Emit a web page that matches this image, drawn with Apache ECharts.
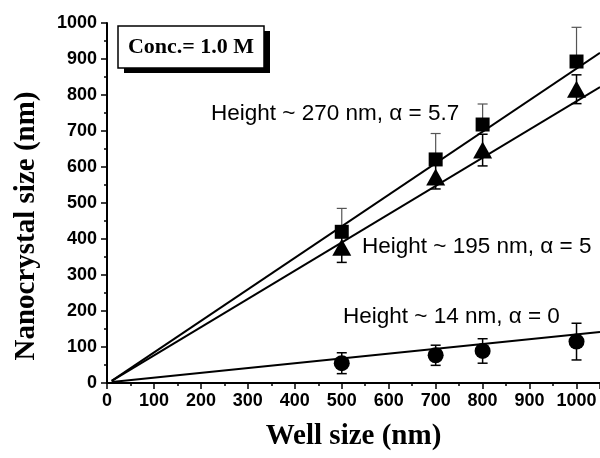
<!DOCTYPE html>
<html>
<head>
<meta charset="utf-8">
<script src="https://cdn.jsdelivr.net/npm/echarts@6/dist/echarts.min.js"></script>
<style>
  html, body { margin: 0; padding: 0; background: #fff; }
  #main { width: 600px; height: 458px; }
</style>
</head>
<body>
<div id="main"></div>
<script>
// well sizes (nm) and measured nanocrystal sizes
const wellSize = [500, 700, 800, 1000];
const size270 = [420, 621, 718, 893];
const err270 = [65, 72, 57, 95];
const size195 = [377, 572, 647, 816];
const err195 = [42, 33, 44, 40];
const size14 = [55, 77, 89, 115];
const err14 = [29, 28, 34, 51];

// fitted lines (end points)
const fit270 = [[10, 6], [1050, 917]];
const fit195 = [[10, 6], [1050, 822]];
const fit14 = [[10, 3], [1050, 142]];

const labels = {
  h270: 'Height ~ 270 nm, \u03b1 = 5.7',
  h195: 'Height ~ 195 nm, \u03b1 = 5',
  h14: 'Height ~ 14 nm, \u03b1 = 0',
  conc: 'Conc.= 1.0 M',
  xTitle: 'Well size (nm)',
  yTitle: 'Nanocrystal size (nm)'
};

const pts = (ys) => wellSize.map((x, i) => [x, ys[i]]);
const bars = (ys, errs, upOnly) =>
  wellSize.map((x, i) => [x, upOnly ? ys[i] : ys[i] - errs[i], ys[i] + errs[i]]);

function errorBar(color, width) {
  return function (params, api) {
    const x = api.value(0);
    const lo = api.coord([x, api.value(1)]);
    const hi = api.coord([x, api.value(2)]);
    const half = 5;
    const style = { stroke: color, lineWidth: width };
    return {
      type: 'group',
      children: [
        { type: 'line', shape: { x1: lo[0], y1: lo[1], x2: hi[0], y2: hi[1] }, style: style },
        { type: 'line', shape: { x1: hi[0] - half, y1: hi[1], x2: hi[0] + half, y2: hi[1] }, style: style },
        { type: 'line', shape: { x1: lo[0] - half, y1: lo[1], x2: lo[0] + half, y2: lo[1] }, style: style }
      ]
    };
  };
}

const tickFont = { fontFamily: 'Liberation Sans', fontWeight: 'bold', fontSize: 18, color: '#000' };
const titleFont = { fontFamily: 'Liberation Serif', fontWeight: 'bold', fontSize: 29, color: '#000' };
const noteFont = '22.5px "Liberation Sans"';
const solid = { color: '#000', opacity: 1 };

const chart = echarts.init(document.getElementById('main'));
chart.setOption({
  animation: false,
  backgroundColor: '#fff',
  grid: { left: 107, right: 0, top: 23, bottom: 75 },
  xAxis: {
    type: 'value',
    min: 0,
    max: 1050,
    interval: 100,
    name: labels.xTitle,
    nameLocation: 'middle',
    nameGap: 39,
    nameTextStyle: titleFont,
    axisLine: { show: true, lineStyle: { color: '#000', width: 2 } },
    axisTick: { show: true, inside: false, length: 6, lineStyle: { color: '#000', width: 1.5 } },
    minorTick: { show: true, splitNumber: 2, length: 3, lineStyle: { color: '#000', width: 1.5 } },
    axisLabel: Object.assign({ margin: 9, showMaxLabel: false, formatter: (v) => String(v) }, tickFont),
    splitLine: { show: false }
  },
  yAxis: {
    type: 'value',
    min: 0,
    max: 1000,
    interval: 100,
    axisLine: { show: true, lineStyle: { color: '#000', width: 2 } },
    axisTick: { show: true, inside: false, length: 6, lineStyle: { color: '#000', width: 1.5 } },
    minorTick: { show: true, splitNumber: 2, length: 3, lineStyle: { color: '#000', width: 1.5 } },
    axisLabel: Object.assign({ margin: 10, formatter: (v) => String(v) }, tickFont),
    splitLine: { show: false }
  },
  series: [
    { type: 'line', data: fit270, symbol: 'none', lineStyle: { color: '#000', width: 2 }, z: 2 },
    { type: 'line', data: fit195, symbol: 'none', lineStyle: { color: '#000', width: 2 }, z: 2 },
    { type: 'line', data: fit14, symbol: 'none', lineStyle: { color: '#000', width: 2 }, z: 2 },
    { type: 'custom', data: bars(size270, err270, true), encode: { x: 0, y: [1, 2] },
      renderItem: errorBar('#555', 1.2), z: 3 },
    { type: 'custom', data: bars(size195, err195, false), encode: { x: 0, y: [1, 2] },
      renderItem: errorBar('#000', 1.5), z: 3 },
    { type: 'custom', data: bars(size14, err14, false), encode: { x: 0, y: [1, 2] },
      renderItem: errorBar('#000', 1.5), z: 3 },
    { type: 'scatter', data: pts(size195), symbol: 'triangle', symbolSize: [19, 17],
      itemStyle: solid, z: 4 },
    { type: 'scatter', data: pts(size270), symbol: 'rect', symbolSize: 14,
      itemStyle: solid, z: 5 },
    { type: 'scatter', data: pts(size14), symbol: 'circle', symbolSize: 16,
      itemStyle: solid, z: 4 }
  ],
  graphic: [
    { type: 'text', x: 27, y: 226, rotation: Math.PI / 2, z: 12,
      style: { text: labels.yTitle, font: 'bold 29px "Liberation Serif"', fill: '#000', align: 'center', verticalAlign: 'middle' } },
    { type: 'rect', shape: { x: 124, y: 31, width: 146, height: 42 }, style: { fill: '#000' }, z: 10 },
    { type: 'rect', shape: { x: 118, y: 26, width: 146, height: 42 },
      style: { fill: '#fff', stroke: '#000', lineWidth: 1.5 }, z: 11 },
    { type: 'text', x: 191, y: 47, z: 12,
      style: { text: labels.conc, font: 'bold 22px "Liberation Serif"', fill: '#000', align: 'center', verticalAlign: 'middle' } },
    { type: 'text', x: 211, y: 114, z: 12,
      style: { text: labels.h270, font: noteFont, fill: '#000', verticalAlign: 'middle' } },
    { type: 'text', x: 362, y: 247, z: 12,
      style: { text: labels.h195, font: noteFont, fill: '#000', verticalAlign: 'middle' } },
    { type: 'text', x: 343, y: 317, z: 12,
      style: { text: labels.h14, font: noteFont, fill: '#000', verticalAlign: 'middle' } }
  ]
});
</script>
</body>
</html>
